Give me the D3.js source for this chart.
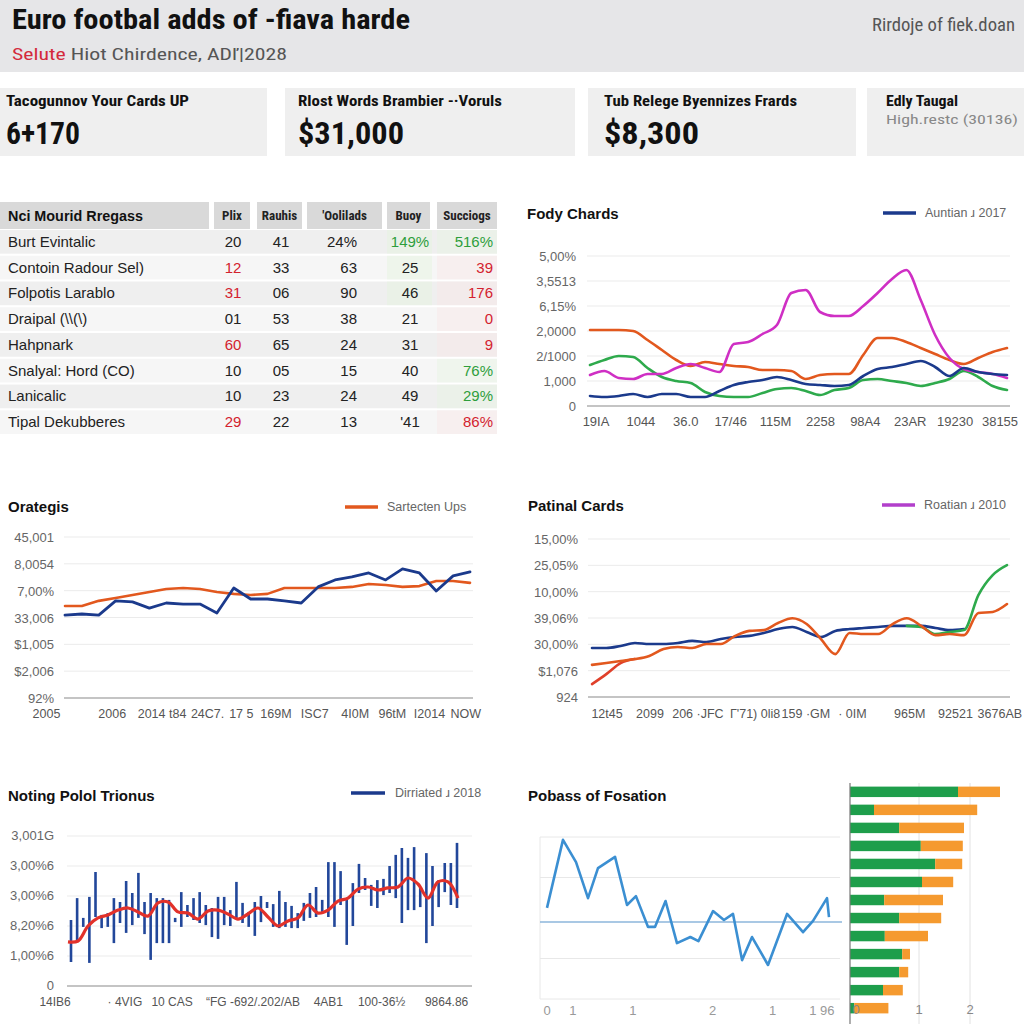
<!DOCTYPE html>
<html><head><meta charset="utf-8">
<script src="https://cdn.jsdelivr.net/npm/d3@7"></script>
<style>
html,body{margin:0;padding:0;background:#fff;}
svg{display:block;}
</style></head><body>
<svg id="c" width="1024" height="1024"></svg>
<script>
// ---------------- DATA ----------------
const headerTitle = "Euro footbal adds of -fiava harde";
const headerSubRed = "Selute";
const headerSub = " Hiot Chirdence, AD\u013e|2028";
const headerRight = "Rirdoje of fiek.doan";

const kpiTitles = ["Tacogunnov Your Cards UP", "Rlost Words Brambier -\u00b7Voruls", "Tub Relege Byennizes Frards", "Edly Taugal"];
const kpiValues = ["6+170", "$31,000", "$8,300", "High.restc (30136)"];

const tableHeader = ["Nci Mourid Rregass", "Plix", "Rauhis", "'Oolilads", "Buoy", "Succiogs"];
const tableNames = ["Burt Evintalic", "Contoin Radour Sel)", "Folpotis Larablo", "Draipal (\\\\(\\)", "Hahpnark", "Snalyal: Hord (CO)", "Lanicalic", "Tipal Dekubberes"];
const colPlix = ["20", "12", "31", "01", "60", "10", "10", "29"];
const colRauhis = ["41", "33", "06", "53", "65", "05", "23", "22"];
const colOolilads = ["24%", "63", "90", "38", "24", "15", "24", "13"];
const colBuoy = ["149%", "25", "46", "21", "31", "40", "49", "'41"];
const colSucc = ["516%", "39", "176", "0", "9", "76%", "29%", "86%"];
const statusPlix = [0, -1, -1, 0, -1, 0, 0, -1];
const statusBuoy = [1, 0, 0, 0, 0, 0, 0, 0];
const statusSucc = [1, -1, -1, -1, -1, 1, 1, -1];

// Fody Chards (top right)
const trYLabels = ["0", "1,000", "2/1000", "2,0000", "6,15%", "3,5513", "5,00%"];
const trXLabels = ["19\u04c0A", "1044", "36.0", "17/46", "115M", "2258", "98A4", "23AR", "19230", "38155"];
const trOrange = [3.04,3.04,3.04,3.0,2.64,2.24,1.84,1.6,1.76,1.68,1.6,1.56,1.44,1.44,1.4,1.08,1.24,1.28,1.28,2.04,2.72,2.72,2.56,2.32,2.08,1.84,1.68,1.92,2.16,2.32];
const trMagenta = [1.24,1.4,1.12,1.08,1.28,1.28,1.52,1.68,1.52,1.36,2.48,2.56,2.88,3.24,4.52,4.64,3.76,3.6,3.6,4.0,4.52,5.08,5.44,4.24,2.84,1.92,1.48,1.36,1.28,1.12];
const trGreen = [1.64,1.84,2.0,1.96,1.52,1.16,1.0,0.92,0.56,0.4,0.36,0.36,0.52,0.68,0.72,0.6,0.44,0.64,0.72,1.04,1.08,1.0,0.92,0.8,0.92,1.08,1.4,1.16,0.8,0.64];
const trBlue = [0.4,0.36,0.4,0.48,0.36,0.48,0.48,0.36,0.36,0.6,0.84,0.96,1.04,1.16,1.04,0.88,0.84,0.8,0.84,1.2,1.48,1.56,1.68,1.8,1.56,1.2,1.52,1.36,1.28,1.24];

// Orategis (middle left)
const mlYLabels = ["92%", "$2,006", "$1,005", "33,006", "7,00%", "8,0054", "45,001"];
const mlXLabels = ["2005", "2006", "2014 t84", "24C7.", "17 5", "169M", "ISC7", "4I0M", "96tM", "I2014", "NOW"];
const mlXLabelAt = [-1.1, 2.8, 5.75, 8.45, 10.45, 12.5, 14.8, 17.2, 19.4, 21.6, 23.75];
const mlBlue = [3.09,3.13,3.09,3.62,3.58,3.35,3.54,3.5,3.5,3.17,4.1,3.69,3.69,3.62,3.54,4.14,4.4,4.51,4.66,4.4,4.81,4.66,3.99,4.55,4.7];
const mlOrange = [3.43,3.43,3.62,3.73,3.84,3.95,4.06,4.1,4.06,3.95,3.88,3.84,3.88,4.1,4.1,4.1,4.1,4.14,4.25,4.21,4.14,4.17,4.36,4.36,4.29];

// Patinal Cards (middle right)
const mrYLabels = ["924", "$1,076", "30,00%", "39,06%", "10,00%", "25,05%", "15,00%"];
const mrXLabels = ["12t45", "2099", "206 \u00b7JFC", "\u0413'71) 0li8", "159 \u00b7GM", "\u00b7 0IM", "965M", "92521", "3676AB"];
const mrXLabelAt = [1.05, 4.05, 7.4, 11.4, 14.95, 18.2, 22.2, 25.4, 28.5];
const mrBlue = [1.86,1.86,1.94,2.05,2.01,2.01,2.05,2.13,2.09,2.2,2.28,2.32,2.43,2.58,2.66,2.47,2.28,2.51,2.58,2.62,2.66,2.7,2.7,2.7,2.62,2.54,2.58,null,null,null];
const mrGreen = [null,null,null,null,null,null,null,null,null,null,null,null,null,null,null,null,null,null,null,null,null,null,2.7,2.66,2.39,2.47,2.54,3.87,4.63,5.01];
const mrOrange = [1.22,1.29,1.37,1.44,1.56,1.82,1.9,1.86,2.01,2.01,2.32,2.51,2.54,2.81,2.99,2.77,2.2,1.63,2.43,2.39,2.39,2.77,2.99,2.7,2.35,2.39,2.35,3.19,3.23,3.53];
const mrOrange2 = [0.49,0.87,1.29,1.44,null,null,null,null,null,null,null,null,null,null,null,null,null,null,null,null,null,null,null,null,null,null,null,null,null,null];

// Noting Polol Trionus (bottom left)
const blYLabels = ["0", "1,00%6", "8,20%6", "3,00%6", "3,00%6", "3,001G"];
const blXLabels = ["14IB6", "\u00b7 4VIG", "10 CAS", "\u201cFG -692/.202/AB", "4AB1", "100-36\u00bd", "9864.86"];
const blXLabelAt = [-2.6, 8.8, 16.5, 29.7, 42.0, 50.7, 61.3];
const blHigh = [2.2,2.93,2.27,2.97,3.8,2.37,2.43,2.93,2.8,3.5,3.1,3.77,2.8,3.1,2.93,2.93,2.87,2.27,3.13,2.7,2.93,3.13,2.7,2.6,2.97,2.97,2.53,3.47,2.77,2.47,2.8,3.0,2.8,2.73,3.17,2.8,2.67,2.43,2.77,3.1,3.3,2.87,4.13,4.13,3.83,2.93,3.43,4.07,3.6,3.37,3.53,3.57,4.0,4.37,4.6,4.27,4.63,3.3,4.43,4.0,3.53,4.1,4.1,4.77];
const blLow = [0.8,1.53,1.97,0.77,2.3,1.93,1.97,1.43,2.1,1.77,2.03,2.27,1.73,0.87,1.43,1.43,1.43,2.13,1.97,2.3,2.2,2.1,2.03,1.63,1.57,2.03,2.0,2.27,2.1,1.97,1.67,2.13,2.6,1.97,1.93,1.97,1.93,1.93,2.17,2.27,2.3,2.47,2.3,1.97,2.7,1.37,2.0,3.1,3.2,2.67,2.6,3.03,3.1,2.93,2.1,2.53,2.53,2.63,1.43,2.0,2.63,3.13,2.7,2.6];
const blRed = [1.47,1.5,2.0,2.27,2.37,2.53,2.6,2.47,2.33,2.77,2.8,2.47,2.43,2.23,2.5,2.53,2.4,2.23,2.4,2.6,2.3,2.0,2.17,2.27,2.7,2.43,2.53,2.83,2.93,3.23,3.3,3.2,3.27,3.3,3.6,3.4,2.93,3.47,3.47,2.93];

// Pobass of Fosation (bottom right)
const brT = [0,1.36,2.47,3.49,4.34,5.79,6.81,7.57,8.6,9.19,10.09,11.06,12.2,12.89,14.13,15.06,15.83,16.6,17.45,18.81,20.43,21.79,22.64,23.83,24.0];
const brV = [2.25,3.93,3.38,2.49,3.23,3.51,2.32,2.54,1.78,1.78,2.42,1.38,1.53,1.43,2.17,1.95,2.1,0.96,1.53,0.84,2.1,1.65,1.93,2.49,2.02];
const brXTickT = [0, 2.2, 7.3, 14.1, 19.2, 23.4];
const brXTickLabels = ["0", "1", "1", "2", "1", "1 96"];
const brRef = 1.9;
const brBarGreen = [1.8,0.4,0.82,1.18,1.42,1.2,0.57,0.82,0.58,0.87,0.82,0.55,0.07];
const brBarOrange = [0.7,1.72,1.08,0.7,0.45,0.52,0.98,0.7,0.72,0.13,0.15,0.33,0.57];
const brBarTicks = [0.1, 1.15, 2.0];
const brBarTickLabels = ["0", "1", "2"];

// ---------------- DRAW ----------------
const FONT = '"Liberation Sans", Arial, sans-serif';
const NARROW = '"Liberation Sans Narrow", "Roboto Condensed", "Liberation Sans", Arial, sans-serif';
const svg = d3.select("#c");

function txt(g, x, y, s, o = {}) {
  const t = g.append("text").attr("x", x).attr("y", y).text(s)
    .attr("font-size", o.size || 13).attr("fill", o.fill || "#222")
    .attr("font-weight", o.bold ? "bold" : "normal")
    .attr("text-anchor", o.anchor || "start")
    .attr("font-family", o.family || FONT);
  if (o.len) t.attr("textLength", o.len).attr("lengthAdjust", "spacingAndGlyphs");
  return t;
}

svg.append("rect").attr("width", 1024).attr("height", 1024).attr("fill", "#fff");

// Header band
svg.append("rect").attr("x", 0).attr("y", 0).attr("width", 1024).attr("height", 72).attr("fill", "#e6e6e8");
txt(svg, 12, 29, headerTitle, {size: 27, bold: true, fill: "#111", family: NARROW, len: 398});
const sub = svg.append("text").attr("x", 12).attr("y", 60).attr("font-size", 17).attr("font-family", NARROW)
  .attr("textLength", 275).attr("lengthAdjust", "spacingAndGlyphs");
sub.append("tspan").attr("fill", "#d42a3c").text(headerSubRed);
sub.append("tspan").attr("fill", "#555").text(headerSub);
txt(svg, 872, 31, headerRight, {size: 18, fill: "#555", family: NARROW, len: 143});

// KPI cards
const cardX = [[0, 267], [285, 575], [588, 856], [867, 1024]];
cardX.forEach((c, i) => {
  svg.append("rect").attr("x", c[0]).attr("y", 88).attr("width", c[1] - c[0]).attr("height", 68).attr("fill", "#efefef");
});
const kTitleLen = [183, 204, 193, 72];
const kTitleX = [6, 298, 604, 886];
kpiTitles.forEach((t, i) => txt(svg, kTitleX[i], 106, t, {size: 15, bold: true, fill: "#111", family: NARROW, len: kTitleLen[i]}));
const kValLen = [74, 106, 95];
[0, 1, 2].forEach(i => txt(svg, kTitleX[i], 144, kpiValues[i], {size: 31, bold: true, fill: "#111", family: NARROW, len: kValLen[i]}));
txt(svg, 886, 124, kpiValues[3], {size: 13, fill: "#888", family: NARROW, len: 132});

// Table
const tg = svg.append("g");
const hCells = [[0, 209], [214, 250], [257, 302], [307, 382], [387, 430], [437, 497]];
hCells.forEach((c, i) => {
  tg.append("rect").attr("x", c[0]).attr("y", 202).attr("width", c[1] - c[0]).attr("height", 27).attr("fill", "#d9d9d9");
  if (i === 0) txt(tg, 8, 221, tableHeader[i], {size: 15, bold: true, fill: "#111", len: 135});
  else txt(tg, (c[0] + c[1]) / 2, 220, tableHeader[i], {size: 13, bold: true, fill: "#222", anchor: "middle", family: NARROW});
});
const rowY = d3.scaleBand().domain(d3.range(tableNames.length)).range([230, 434]).paddingInner(0.08);
const red = "#d3222e", green = "#2e9e3c";
const colFill = s => s > 0 ? green : (s < 0 ? red : "#222");
tableNames.forEach((name, r) => {
  const y0 = rowY(r), h = rowY.bandwidth(), cy = y0 + h / 2 + 5;
  tg.append("rect").attr("x", 0).attr("y", y0).attr("width", 497).attr("height", h).attr("fill", r % 2 ? "#f6f6f6" : "#efefef");
  if (r < 3) tg.append("rect").attr("x", 387).attr("y", y0).attr("width", 45).attr("height", h).attr("fill", "#e6f3e0").attr("opacity", 0.5);
  tg.append("rect").attr("x", 437).attr("y", y0).attr("width", 60).attr("height", h)
    .attr("fill", statusSucc[r] > 0 ? "#e6f4e1" : "#fbe7e7").attr("opacity", 0.4);
  txt(tg, 8, cy, name, {size: 15, fill: "#222"});
  txt(tg, 233, cy, colPlix[r], {size: 15, fill: colFill(statusPlix[r]), anchor: "middle"});
  txt(tg, 281, cy, colRauhis[r], {size: 15, fill: "#222", anchor: "middle"});
  txt(tg, 357, cy, colOolilads[r], {size: 15, fill: "#222", anchor: "end"});
  txt(tg, 410, cy, colBuoy[r], {size: 15, fill: colFill(statusBuoy[r]), anchor: "middle"});
  txt(tg, 493, cy, colSucc[r], {size: 15, fill: colFill(statusSucc[r]), anchor: "end"});
});

// Generic line chart
function lineChart(o) {
  const g = svg.append("g");
  txt(g, o.titleX, o.titleY, o.title, {size: 15, bold: true, fill: "#111"});
  g.append("line").attr("x1", o.legend.x).attr("x2", o.legend.x + 33).attr("y1", o.legend.y).attr("y2", o.legend.y)
    .attr("stroke", o.legend.color).attr("stroke-width", 3.5);
  txt(g, o.legend.x + 42, o.legend.y + 4, o.legend.text, {size: 12.5, fill: "#666"});
  const y = d3.scaleLinear().domain([0, o.yLabels.length - 1]).range(o.yRange);
  const n = o.series[0].values.length;
  const x = d3.scaleLinear().domain([0, n - 1]).range(o.xRange);
  g.selectAll(null).data(d3.range(1, o.yLabels.length)).join("line")
    .attr("x1", o.gridX[0]).attr("x2", o.gridX[1]).attr("y1", d => y(d)).attr("y2", d => y(d))
    .attr("stroke", "#ebebeb").attr("stroke-width", 1);
  g.append("line").attr("x1", o.gridX[0]).attr("x2", o.gridX[1]).attr("y1", y(0)).attr("y2", y(0))
    .attr("stroke", "#b0b0b0").attr("stroke-width", 1.5);
  g.selectAll(null).data(o.yLabels).join("text")
    .attr("x", o.labelRight).attr("y", (d, i) => y(i) + 5).attr("text-anchor", "end")
    .attr("font-size", 13).attr("fill", "#666").attr("font-family", FONT).text(d => d);
  let xpos;
  if (o.xLabelAt) xpos = (d, i) => x(o.xLabelAt[i]);
  else { const xp = d3.scalePoint().domain(d3.range(o.xLabels.length)).range(o.xLabelRange); xpos = (d, i) => xp(i); }
  g.selectAll(null).data(o.xLabels).join("text")
    .attr("x", xpos).attr("y", o.xLabelY).attr("text-anchor", "middle")
    .attr("font-size", o.xLabelSize || 13).attr("fill", "#555").attr("font-family", FONT).text(d => d);
  const line = d3.line().defined(d => d != null).x((d, i) => x(i)).y(d => y(d)).curve(o.curve || d3.curveMonotoneX);
  o.series.forEach(s => {
    g.append("path").attr("d", line(s.values)).attr("fill", "none").attr("stroke", s.color)
      .attr("stroke-width", s.width || 2.6).attr("stroke-linejoin", "round").attr("stroke-linecap", "round");
  });
  return {g, x, y};
}

lineChart({
  title: "Fody Chards", titleX: 527, titleY: 219,
  legend: {x: 883, y: 213, color: "#1b3a8c", text: "Auntian \u0279 2017"},
  yLabels: trYLabels, yRange: [406, 256], gridX: [587, 1010], labelRight: 576,
  xLabels: trXLabels, xLabelRange: [596, 1000], xLabelY: 426, xRange: [590, 1007],
  series: [
    {values: trOrange, color: "#e2581e"},
    {values: trGreen, color: "#2eaa4c"},
    {values: trMagenta, color: "#cf2fc4"},
    {values: trBlue, color: "#1b3a8c"}
  ]
});

lineChart({
  title: "Orategis", titleX: 8, titleY: 512,
  legend: {x: 345, y: 507, color: "#e2581e", text: "Sartecten Ups"},
  yLabels: mlYLabels, yRange: [698, 537], gridX: [64, 473], labelRight: 54,
  xLabels: mlXLabels, xLabelAt: mlXLabelAt, xLabelSize: 12.5, xLabelY: 718, xRange: [65, 470],
  curve: d3.curveLinear,
  series: [
    {values: mlOrange, color: "#e2581e", width: 2.6},
    {values: mlBlue, color: "#1b3a8c", width: 2.8}
  ]
});

lineChart({
  title: "Patinal Cards", titleX: 528, titleY: 511,
  legend: {x: 882, y: 505, color: "#b23fcb", text: "Roatian \u0279 2010"},
  yLabels: mrYLabels, yRange: [697, 539], gridX: [588, 1010], labelRight: 578,
  xLabels: mrXLabels, xLabelAt: mrXLabelAt, xLabelSize: 12.5, xLabelY: 718, xRange: [592, 1007],
  series: [
    {values: mrBlue, color: "#1b3a8c"},
    {values: mrGreen, color: "#2eaa4c"},
    {values: mrOrange2, color: "#e0402a"},
    {values: mrOrange, color: "#e2581e"}
  ]
});

// Bottom left: range bars + red trend
(function () {
  const g = svg.append("g");
  txt(g, 8, 801, "Noting Polol Trionus", {size: 15, bold: true, fill: "#111"});
  g.append("line").attr("x1", 351).attr("x2", 385).attr("y1", 793).attr("y2", 793).attr("stroke", "#1b3a8c").attr("stroke-width", 3.5);
  txt(g, 395, 797, "Dirriated \u0279 2018", {size: 12.5, fill: "#666"});
  const y = d3.scaleLinear().domain([0, blYLabels.length - 1]).range([986, 836]);
  g.selectAll(null).data(d3.range(1, blYLabels.length)).join("line")
    .attr("x1", 67).attr("x2", 472).attr("y1", d => y(d)).attr("y2", d => y(d)).attr("stroke", "#ebebeb");
  g.append("line").attr("x1", 67).attr("x2", 472).attr("y1", y(0)).attr("y2", y(0)).attr("stroke", "#b0b0b0").attr("stroke-width", 1.5);
  g.selectAll(null).data(blYLabels).join("text").attr("x", 54).attr("y", (d, i) => y(i) + 4)
    .attr("text-anchor", "end").attr("font-size", 13).attr("fill", "#666").attr("font-family", FONT).text(d => d);
  const xb = d3.scaleLinear().domain([0, blHigh.length - 1]).range([71, 457]);
  g.selectAll(null).data(blXLabels).join("text").attr("x", (d, i) => xb(blXLabelAt[i])).attr("y", 1006)
    .attr("text-anchor", "middle").attr("font-size", 12).attr("fill", "#555").attr("font-family", FONT).text(d => d);
  g.selectAll(null).data(blHigh).join("rect")
    .attr("x", (d, i) => xb(i) - 1.3).attr("width", 2.6)
    .attr("y", d => y(d)).attr("height", (d, i) => y(blLow[i]) - y(d)).attr("fill", "#22479a");
  const xr = d3.scaleLinear().domain([0, blRed.length - 1]).range([68, 458]);
  g.append("path").attr("d", d3.line().x((d, i) => xr(i)).y(d => y(d)).curve(d3.curveCatmullRom)(blRed))
    .attr("fill", "none").attr("stroke", "#e2312a").attr("stroke-width", 3.2).attr("stroke-linejoin", "round");
})();

// Bottom right: line + stacked bars
(function () {
  const g = svg.append("g");
  txt(g, 528, 801, "Pobass of Fosation", {size: 15, bold: true, fill: "#111"});
  const x = d3.scaleLinear().domain([0, 24]).range([547, 829]);
  const y = d3.scaleLinear().domain([0, 4]).range([999, 837]);
  g.selectAll(null).data([0, 1, 3, 4]).join("line").attr("x1", 540).attr("x2", 840)
    .attr("y1", d => y(d)).attr("y2", d => y(d)).attr("stroke", "#e8e8e8");
  g.append("line").attr("x1", 540).attr("x2", 540).attr("y1", y(4)).attr("y2", y(0)).attr("stroke", "#e8e8e8");
  g.append("line").attr("x1", 540).attr("x2", 842).attr("y1", y(brRef)).attr("y2", y(brRef)).attr("stroke", "#8db6db").attr("stroke-width", 1.5);
  g.selectAll(null).data(brXTickLabels).join("text").attr("x", (d, i) => x(brXTickT[i])).attr("y", 1015)
    .attr("text-anchor", "middle").attr("font-size", 13).attr("fill", "#999").attr("font-family", FONT).text(d => d);
  g.append("path").attr("d", d3.line().x((d, i) => x(brT[i])).y(d => y(d))(brV))
    .attr("fill", "none").attr("stroke", "#3b8fd2").attr("stroke-width", 2.6).attr("stroke-linejoin", "round");

  const xb = d3.scaleLinear().domain([0, 2.5]).range([850, 1000]);
  const yb = d3.scaleBand().domain(d3.range(brBarGreen.length)).range([783, 1017]).paddingInner(0.42).paddingOuter(0.2);
  g.selectAll(null).data(brBarTicks.slice(1)).join("line").attr("x1", d => xb(d)).attr("x2", d => xb(d))
    .attr("y1", 783).attr("y2", 1024).attr("stroke", "#e2e2e2");
  g.selectAll(null).data(brBarGreen).join("rect").attr("x", xb(0)).attr("y", (d, i) => yb(i))
    .attr("width", d => xb(d) - xb(0)).attr("height", yb.bandwidth()).attr("fill", "#1e9e4b");
  g.selectAll(null).data(brBarOrange).join("rect").attr("x", (d, i) => xb(brBarGreen[i])).attr("y", (d, i) => yb(i))
    .attr("width", (d, i) => xb(brBarGreen[i] + d) - xb(brBarGreen[i])).attr("height", yb.bandwidth()).attr("fill", "#f59a2f");
  g.append("line").attr("x1", 850).attr("x2", 850).attr("y1", 783).attr("y2", 1024).attr("stroke", "#777").attr("stroke-width", 1.2);
  g.selectAll(null).data(brBarTickLabels).join("text").attr("x", (d, i) => xb(brBarTicks[i])).attr("y", 1014)
    .attr("text-anchor", "middle").attr("font-size", 13).attr("fill", "#888").attr("font-family", FONT).text(d => d);
})();
</script>
</body></html>
